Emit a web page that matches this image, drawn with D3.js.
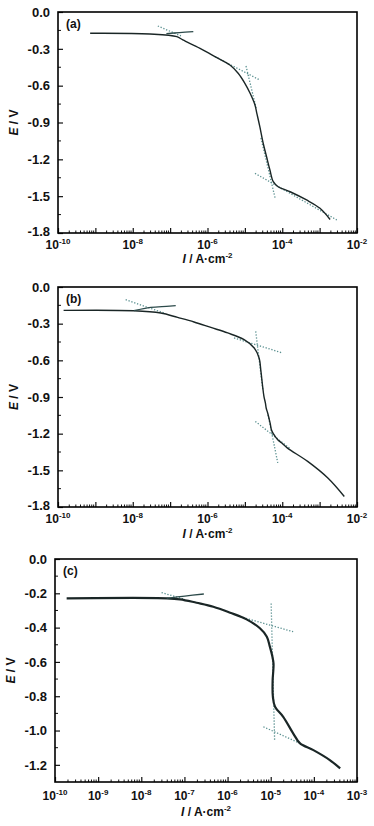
<!DOCTYPE html>
<html><head><meta charset="utf-8">
<script src="https://cdn.jsdelivr.net/npm/d3@7"></script>
<style>
body{margin:0;background:#fff}
svg text{font-family:"Liberation Sans",Arial,sans-serif;font-weight:bold;fill:#111}
</style></head>
<body><svg id="chart" width="374" height="826"></svg>
<script>
// ---------- DATA (log10 of current density in A/cm^2, potential in V) ----------
// Panel (a)
const aCathLogI = [-9.14,-7.54,-6.82,-6.66,-6.20,-5.75,-5.40,-5.18,-5.00,-4.86,-4.73,-4.68,-4.60,-4.51,-4.42,-4.33,-4.24,-4.11,-3.79,-3.35,-2.99,-2.72];
const aCathE    = [-0.173,-0.179,-0.201,-0.228,-0.296,-0.372,-0.432,-0.499,-0.581,-0.662,-0.757,-0.825,-0.934,-1.069,-1.179,-1.287,-1.382,-1.423,-1.464,-1.531,-1.599,-1.690];
const aAnodLogI = [-7.10,-6.75,-6.38];
const aAnodE    = [-0.176,-0.168,-0.160];
const aTafel = [
  [[-7.33,-0.114],[-6.71,-0.195]],
  [[-5.80,-0.364],[-4.60,-0.554]],
  [[-4.97,-0.440],[-4.70,-0.782]],
  [[-4.57,-1.026],[-4.19,-1.517]],
  [[-4.73,-1.314],[-2.54,-1.694]]
];
// Panel (b)
const bCathLogI = [-9.85,-7.97,-7.25,-6.80,-6.36,-5.91,-5.46,-5.02,-4.75,-4.62,-4.57,-4.53,-4.49,-4.45,-4.43,-4.39,-4.35,-4.32,-4.29,-4.24,-4.12,-4.02,-3.86,-3.32,-2.78,-2.34];
const bCathE    = [-0.191,-0.194,-0.213,-0.249,-0.286,-0.331,-0.376,-0.431,-0.499,-0.581,-0.691,-0.800,-0.895,-0.950,-0.990,-1.031,-1.080,-1.120,-1.168,-1.200,-1.250,-1.275,-1.318,-1.427,-1.563,-1.714];
const bAnodLogI = [-7.97,-7.52,-7.10,-6.85];
const bAnodE    = [-0.194,-0.167,-0.158,-0.153];
const bTafel = [
  [[-8.19,-0.104],[-7.16,-0.213]],
  [[-5.29,-0.417],[-3.99,-0.540]],
  [[-4.71,-0.363],[-4.52,-0.840]],
  [[-4.72,-1.100],[-3.80,-1.320]],
  [[-4.38,-1.046],[-4.12,-1.439]]
];
// Panel (c)
const cCathLogI = [-9.73,-7.41,-7.10,-6.72,-6.33,-5.94,-5.56,-5.25,-5.09,-5.02,-4.96,-4.935,-4.94,-4.955,-4.95,-4.90,-4.71,-4.48,-4.32,-4.01,-3.63,-3.39];
const cCathE    = [-0.229,-0.229,-0.235,-0.255,-0.278,-0.313,-0.352,-0.404,-0.453,-0.511,-0.570,-0.610,-0.650,-0.706,-0.803,-0.861,-0.920,-1.016,-1.075,-1.114,-1.172,-1.221];
const cAnodLogI = [-7.41,-6.99,-6.55];
const cAnodE    = [-0.229,-0.216,-0.204];
const cTafel = [
  [[-7.53,-0.196],[-6.99,-0.235]],
  [[-5.71,-0.336],[-4.48,-0.424]],
  [[-4.99,-0.259],[-4.91,-1.055]],
  [[-5.17,-0.978],[-4.32,-1.075]]
];
// Axis ticks
const abYTicks = [0.0,-0.3,-0.6,-0.9,-1.2,-1.5,-1.8];
const abYMinor = [-0.15,-0.45,-0.75,-1.05,-1.35,-1.65];
const abXDecades = [-10,-9,-8,-7,-6,-5,-4,-3,-2];
const abXLabels = [-10,-8,-6,-4,-2];
const cYTicks = [0.0,-0.2,-0.4,-0.6,-0.8,-1.0,-1.2];
const cYMinor = [-0.1,-0.3,-0.5,-0.7,-0.9,-1.1];
const cXDecades = [-10,-9,-8,-7,-6,-5,-4,-3];
const cXLabels = [-10,-9,-8,-7,-6,-5,-4,-3];
const panelLabels = ["(a)","(b)","(c)"];

// ---------- LAYOUT ----------
const panels = [
  {label:panelLabels[0], L:58, R:357, T:12, B:233, xDom:[-10,-2], yDom:[-1.8,0], yT:abYTicks, yM:abYMinor, xD:abXDecades, xL:abXLabels,
   cath:[aCathLogI,aCathE], anod:[aAnodLogI,aAnodE], tafel:aTafel, lw:1.4, xlabY:249, titleY:263},
  {label:panelLabels[1], L:58, R:357, T:287, B:507, xDom:[-10,-2], yDom:[-1.8,0], yT:abYTicks, yM:abYMinor, xD:abXDecades, xL:abXLabels,
   cath:[bCathLogI,bCathE], anod:[bAnodLogI,bAnodE], tafel:bTafel, lw:1.4, xlabY:523, titleY:538},
  {label:panelLabels[2], L:55, R:357, T:559, B:782, xDom:[-10,-3], yDom:[-1.3,0], yT:cYTicks, yM:cYMinor, xD:cXDecades, xL:cXLabels,
   cath:[cCathLogI,cCathE], anod:[cAnodLogI,cAnodE], tafel:cTafel, lw:2.2, xlabY:800, titleY:816}
];

const svg = d3.select("#chart");
const curveColor = "#1a2626";
const tafelColor = "#5a9090";

panels.forEach(p => {
  const x = d3.scaleLog().domain([10**p.xDom[0], 10**p.xDom[1]]).range([p.L, p.R]);
  const y = d3.scaleLinear().domain(p.yDom).range([p.B, p.T]);
  const g = svg.append("g");
  const straight = d3.line().x(d => x(10**d[0])).y(d => y(d[1]));
  const smooth = d3.line().x(d => x(10**d[0])).y(d => y(d[1])).curve(d3.curveCatmullRom.alpha(0.5));

  // minor x ticks
  const minors = [];
  p.xD.slice(0,-1).forEach(dec => { for (let k=2;k<=9;k++) minors.push(k*10**dec); });
  g.selectAll(".xm").data(minors).join("line")
    .attr("x1", d=>x(d)).attr("x2", d=>x(d)).attr("y1", p.B).attr("y2", p.B-2.5)
    .attr("stroke","#111").attr("stroke-width",1);
  // major x ticks
  const xAxis = d3.axisBottom(x).tickValues(p.xD.map(d=>10**d)).tickSize(-5).tickFormat("");
  const xa = g.append("g").attr("transform",`translate(0,${p.B})`).call(xAxis);
  xa.select(".domain").remove();
  xa.selectAll("line").attr("stroke","#111").attr("stroke-width",1.2);
  // x labels
  p.xL.forEach(dec => {
    const t = g.append("text").attr("x", x(10**dec)).attr("y", p.xlabY).attr("text-anchor","middle").attr("font-size",12);
    t.append("tspan").text("10");
    t.append("tspan").attr("dy",-5).attr("font-size",8).text(String(dec));
  });
  // y axis
  const yAxis = d3.axisLeft(y).tickValues(p.yT).tickSize(-5).tickPadding(8).tickFormat(d=>d.toFixed(1));
  const ya = g.append("g").attr("transform",`translate(${p.L},0)`).call(yAxis);
  ya.select(".domain").remove();
  ya.selectAll("line").attr("stroke","#111").attr("stroke-width",1.2);
  ya.selectAll("text").attr("font-size",13).attr("font-family","Liberation Sans, Arial, sans-serif").attr("font-weight","bold").attr("fill","#111");
  ya.selectAll(".tick").filter(d => d === p.yDom[0]).select("text").attr("dy","0.2em");
  g.selectAll(".ym").data(p.yM).join("line")
    .attr("x1", p.L).attr("x2", p.L+3).attr("y1", d=>y(d)).attr("y2", d=>y(d))
    .attr("stroke","#111").attr("stroke-width",1);

  // frame
  g.append("rect").attr("x",p.L).attr("y",p.T).attr("width",p.R-p.L).attr("height",p.B-p.T)
    .attr("fill","none").attr("stroke","#000").attr("stroke-width",1.6);

  // tafel lines
  g.selectAll(".taf").data(p.tafel).join("path")
    .attr("d", straight).attr("fill","none").attr("stroke",tafelColor)
    .attr("stroke-width",1.3).attr("stroke-dasharray","1.3,1.7");

  // curves
  const cath = p.cath[0].map((v,i)=>[v,p.cath[1][i]]);
  const anod = p.anod[0].map((v,i)=>[v,p.anod[1][i]]);
  g.append("path").attr("d", smooth(cath)).attr("fill","none")
    .attr("stroke",curveColor).attr("stroke-width",p.lw).attr("stroke-linejoin","round");
  g.append("path").attr("d", smooth(anod)).attr("fill","none")
    .attr("stroke","#2c4a4a").attr("stroke-width",1.3);

  // panel label
  g.append("text").attr("x",p.L+8).attr("y",p.T+16).attr("font-size",12).text(p.label);

  // axis titles
  const xt = g.append("text").attr("x",(p.L+p.R)/2).attr("y",p.titleY).attr("text-anchor","middle").attr("font-size",12);
  xt.append("tspan").attr("font-style","italic").text("I");
  xt.append("tspan").text(" / A·cm");
  xt.append("tspan").attr("dy",-5).attr("font-size",8).text("-2");
  const yt = g.append("text").attr("transform",`translate(${p.L-40},${(p.T+p.B)/2}) rotate(-90)`)
    .attr("text-anchor","middle").attr("font-size",12);
  yt.append("tspan").attr("font-style","italic").text("E");
  yt.append("tspan").text(" / V");
});
</script></body></html>
